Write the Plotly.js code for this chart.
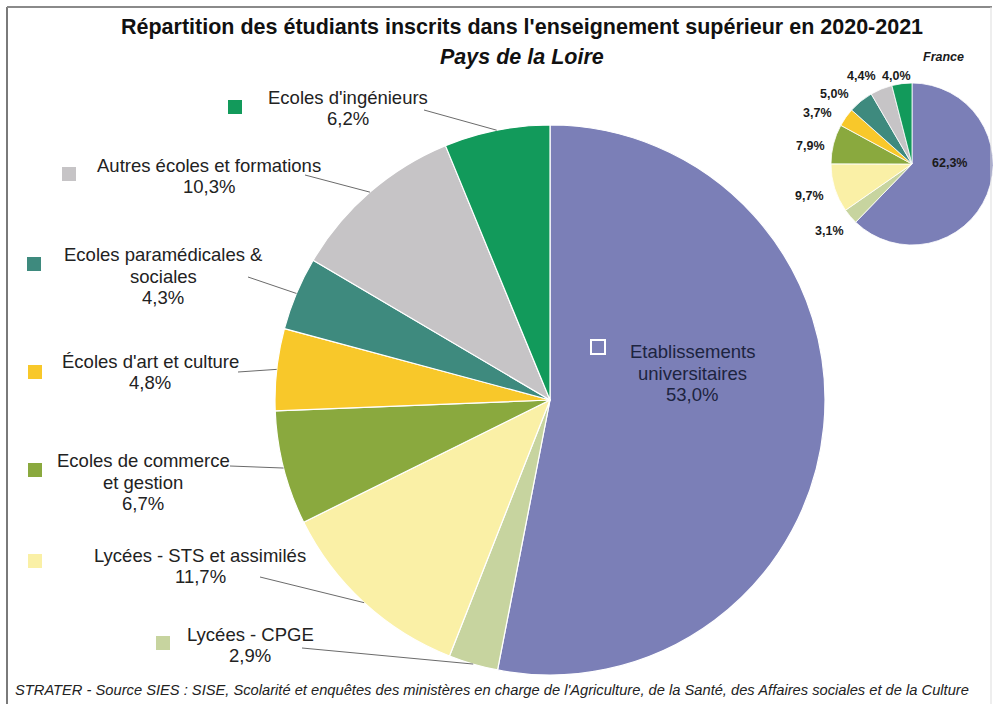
<!DOCTYPE html>
<html><head><meta charset="utf-8">
<script src="https://cdn.plot.ly/plotly-3.0.1.min.js"></script>
<style>html,body{margin:0;padding:0;background:#fff;}#chart{width:1001px;height:704px;}</style>
</head><body><div id="chart"></div>
<script>
// ---- data ----
const categories = ["Etablissements universitaires","Lycées - CPGE","Lycées - STS et assimilés","Ecoles de commerce et gestion","Écoles d'art et culture","Ecoles paramédicales & sociales","Autres écoles et formations","Ecoles d'ingénieurs"];
const displayLabels = ["Etablissements<br>universitaires","Lycées - CPGE","Lycées - STS et assimilés","Ecoles de commerce<br>et gestion","Écoles d'art et culture","Ecoles paramédicales &<br>sociales","Autres écoles et formations","Ecoles d'ingénieurs"];
const paysDeLaLoire = [53.0, 2.9, 11.7, 6.7, 4.8, 4.3, 10.3, 6.2];
const france = [62.3, 3.1, 9.7, 7.9, 3.7, 5.0, 4.4, 4.0];
const sliceColors = ["#7b7fb7","#c7d49f","#faf0a6","#8aa93e","#f8c82a","#3e8a7e","#c6c4c6","#129a5b"];

// ---- layout geometry (pixels) ----
const W = 1001, H = 704;
const MAIN = {cx: 550, cy: 400, r: 275};
const FR = {cx: 912, cy: 164, r: 81};
const mainLabelPos = [[692,373],[250,645],[200,566],[143,482],[150,372],[163,276],[209,176],[348,108]];
const squarePos = [[598,347],[163,643],[35,561],[35,470],[35,372],[34,264],[69,174],[235,107]];
const leaderStart = [null,[302,648],[260,577],[230,466],[238,372],[248,277],[305,175],[424,110]];
const frLabelPos = [[949,163],[829,231],[809,196],[810,146],[817,113],[834,94],[861,76],[896,76]];
const LINE_H = 21.5;

const px = x => x / W;
const py = y => 1 - y / H;
const fmt = v => v.toFixed(1).replace('.', ',') + '%';

function midPoints(vals, g) {
  const tot = vals.reduce((a,b)=>a+b,0);
  let cum = 0;
  return vals.map(v => {
    const a = 2*Math.PI*(cum + v/2)/tot; cum += v;
    return [g.cx + g.r*Math.sin(a), g.cy - g.r*Math.cos(a)];
  });
}
function domainOf(g) {
  return {x: [px(g.cx-g.r), px(g.cx+g.r)], y: [py(g.cy+g.r), py(g.cy-g.r)]};
}

const traces = [
  {type:'pie', values: paysDeLaLoire, labels: categories, sort:false, direction:'clockwise', rotation:0,
   domain: domainOf(MAIN), textinfo:'none', hoverinfo:'skip',
   marker:{colors: sliceColors, line:{color:'#ffffff', width:1.2}}},
  {type:'pie', values: france, labels: categories, sort:false, direction:'clockwise', rotation:0,
   domain: domainOf(FR), textinfo:'none', hoverinfo:'skip',
   marker:{colors: sliceColors, line:{color:'#ffffff', width:0.8}}}
];

const annotations = [];
const shapes = [];
const txtFont = {family:'Liberation Sans, Arial, sans-serif', size:18.5, color:'#222222'};

const mids = midPoints(paysDeLaLoire, MAIN);
categories.forEach((c, i) => {
  const [x, y] = mainLabelPos[i];
  const lines = (displayLabels[i] + '<br>' + fmt(paysDeLaLoire[i])).split('<br>');
  lines.forEach((ln, k) => {
    annotations.push({xref:'paper', yref:'paper', x: px(x), y: py(y + (k - (lines.length-1)/2)*LINE_H),
      xanchor:'center', yanchor:'middle', text: ln, showarrow:false,
      font: i === 0 ? Object.assign({}, txtFont, {color:'#1d2440'}) : txtFont});
  });
  const [sx, sy] = squarePos[i];
  const s = 7;
  shapes.push({type:'rect', xref:'paper', yref:'paper', x0: px(sx-s), x1: px(sx+s), y0: py(sy+s), y1: py(sy-s),
    fillcolor: i === 0 ? 'rgba(0,0,0,0)' : sliceColors[i],
    line: i === 0 ? {color:'#ffffff', width:2} : {width:0}});
  if (leaderStart[i]) {
    const [lx, ly] = leaderStart[i];
    const [mx, my] = mids[i];
    shapes.push({type:'line', xref:'paper', yref:'paper', x0: px(lx), y0: py(ly), x1: px(mx), y1: py(my),
      line:{color:'#6b6b6b', width:1}});
  }
});

france.forEach((v, i) => {
  const [x, y] = frLabelPos[i];
  annotations.push({xref:'paper', yref:'paper', x: px(x), y: py(y), xanchor:'center', yanchor:'middle',
    text: '<b>' + fmt(v) + '</b>', showarrow:false,
    font:{family:'Liberation Sans, Arial, sans-serif', size:12.5, color:'#1a1a1a'}});
});

annotations.push({xref:'paper', yref:'paper', x: px(943), y: py(57), xanchor:'center', yanchor:'middle',
  text:'<b><i>France</i></b>', showarrow:false, font:{family:'Liberation Sans, Arial, sans-serif', size:12.5, color:'#1a1a1a'}});
annotations.push({xref:'paper', yref:'paper', x: px(522), y: py(27), xanchor:'center', yanchor:'middle',
  text:"<b>Répartition des étudiants inscrits dans l'enseignement supérieur en 2020-2021</b>", showarrow:false,
  font:{family:'Liberation Sans, Arial, sans-serif', size:21.5, color:'#111111'}});
annotations.push({xref:'paper', yref:'paper', x: px(522), y: py(57), xanchor:'center', yanchor:'middle',
  text:"<b><i>Pays de la Loire</i></b>", showarrow:false,
  font:{family:'Liberation Sans, Arial, sans-serif', size:21.5, color:'#111111'}});
annotations.push({xref:'paper', yref:'paper', x: px(13), y: py(690), xanchor:'left', yanchor:'middle',
  text:"<i>STRATER - Source SIES : SISE, Scolarité et enquêtes des ministères en charge de l'Agriculture, de la Santé, des Affaires sociales et de la Culture</i>",
  showarrow:false, font:{family:'Liberation Sans, Arial, sans-serif', size:14.7, color:'#222222'}});

// frame
shapes.push({type:'line', xref:'paper', yref:'paper', x0: px(7), x1: px(7), y0: py(704), y1: py(7), line:{color:'#7a7a7a', width:2}});
shapes.push({type:'line', xref:'paper', yref:'paper', x0: px(7), x1: px(992), y0: py(7), y1: py(7), line:{color:'#8a8a8a', width:2}});
shapes.push({type:'line', xref:'paper', yref:'paper', x0: px(991), x1: px(991), y0: py(704), y1: py(7), line:{color:'#dddddd', width:1}});

Plotly.newPlot('chart', traces, {
  width: W, height: H, margin:{l:0, r:0, t:0, b:0},
  paper_bgcolor:'#ffffff', plot_bgcolor:'#ffffff', showlegend:false,
  annotations, shapes
}, {staticPlot:true, displayModeBar:false});
</script></body></html>
